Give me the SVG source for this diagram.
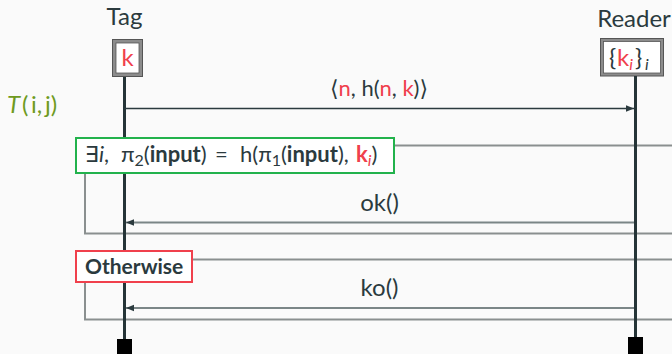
<svg xmlns="http://www.w3.org/2000/svg" width="672" height="354" viewBox="0 0 672 354">
<defs>
<style>
text{font-family:"Lato","Open Sans","DejaVu Sans",sans-serif;font-size:24px;fill:#2b3a3e}
.c{text-anchor:middle}
.r{fill:#f0404c}
.b{font-weight:bold}
.it{font-style:italic}
.sub{font-size:16px}
.g{fill:#6f9a1f}
.life{stroke:#253437;stroke-width:3}
.frame{fill:none;stroke:#8a8f8f;stroke-width:2}
.msg{stroke:#7b8687;stroke-width:2}
</style>
<marker id="ah" viewBox="0 0 10 10" refX="10" refY="5" markerWidth="10" markerHeight="8" markerUnits="userSpaceOnUse" orient="auto">
<path d="M0,1 L10,5 L0,9 Z" fill="#2b3a3e"/>
</marker>
</defs>
<rect width="672" height="354" fill="#fafafa"/>

<g id="frames">
<path class="frame" d="M394,145.5 H672 M85,173 V233.5 H672"/>
<path class="frame" d="M192,259.5 H672 M85,282 V319.5 H672"/>
</g>

<g id="tag">
<text class="c" x="124.5" y="25">Tag</text>
<rect x="112.5" y="39.5" width="30" height="37" fill="#8c8c8c" stroke="#555"/>
<rect x="116" y="43" width="23" height="30" fill="#fff" stroke="#555" stroke-width="0.8"/>
<text class="c r" x="127.5" y="66">k</text>
<line class="life" x1="124.5" y1="77" x2="124.5" y2="340"/>
<rect x="117" y="339" width="15" height="15" fill="#000"/>
</g>

<g id="reader">
<text class="c" x="634" y="27">Reader</text>
<rect x="600.5" y="38.5" width="63" height="37.5" fill="#8c8c8c" stroke="#555"/>
<rect x="603.5" y="41.5" width="57" height="31.5" fill="#fff" stroke="#555" stroke-width="0.8"/>
<text x="609" y="66">{<tspan class="r" x="617">k</tspan><tspan class="r it sub" dy="4">i</tspan><tspan x="635" dy="-4">}</tspan><tspan class="it sub" x="645" dy="4">i</tspan></text>
<line class="life" x1="635.5" y1="76" x2="635.5" y2="338"/>
<rect x="628" y="337" width="15" height="17" fill="#000"/>
</g>

<g id="label-T">
<text class="g" x="7" y="113"><tspan class="it g">T</tspan><tspan class="g" x="22">(</tspan><tspan class="g" x="31">i,</tspan><tspan class="g" x="45">j)</tspan></text>
</g>

<g id="connectors">
<line x1="124" y1="108.5" x2="634" y2="108.5" stroke="#2b3a3e" stroke-width="1.3" marker-end="url(#ah)"/>
<text class="c" x="379" y="96" style="font-size:22px">⟨<tspan class="r">n</tspan>, h(<tspan class="r">n</tspan>, <tspan class="r">k</tspan>)⟩</text>
<line class="msg" x1="634" y1="222.5" x2="126" y2="222.5" marker-end="url(#ah)"/>
<text class="c" x="379.5" y="211">ok()</text>
<line class="msg" x1="634" y1="308" x2="126" y2="308" marker-end="url(#ah)"/>
<text class="c" x="379.5" y="296">ko()</text>
</g>

<g id="cond-exists">
<rect x="76" y="138" width="318" height="35" fill="#fff" stroke="#22b24c" stroke-width="2"/>
<text x="85" y="162" style="font-size:22px">∃<tspan class="it">i</tspan>,<tspan x="121">π</tspan><tspan class="sub" dy="4">2</tspan><tspan dy="-4">(</tspan><tspan class="b">input</tspan>)<tspan x="215">=</tspan><tspan x="240">h(π</tspan><tspan class="sub" dy="4">1</tspan><tspan dy="-4">(</tspan><tspan class="b">input</tspan>),<tspan class="b r" x="356">k</tspan><tspan class="it r sub" dy="4">i</tspan><tspan dy="-4">)</tspan></text>
</g>

<g id="cond-otherwise">
<rect x="76" y="251" width="116" height="31" fill="#fff" stroke="#f0404c" stroke-width="2"/>
<text class="b" x="85" y="274" style="font-size:21px">Otherwise</text>
</g>
</svg>
